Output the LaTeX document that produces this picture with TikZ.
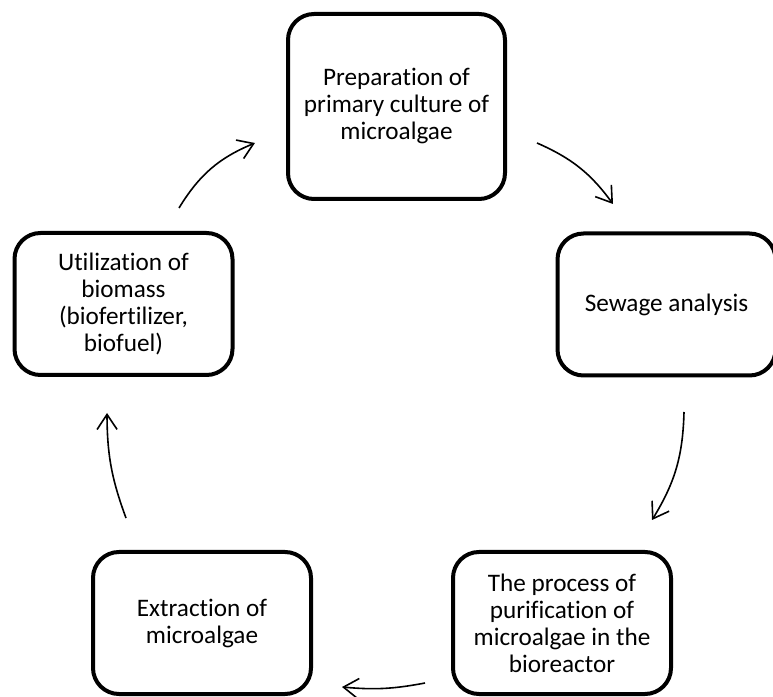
\documentclass[tikz,border=0pt]{standalone}
\usepackage{fontspec}
\setmainfont{Carlito}[Ligatures=NoCommon]
\usetikzlibrary{arrows.meta,positioning}

\begin{document}
\begin{tikzpicture}[x=1pt,y=1pt,
  every node/.style={font=\fontsize{25.2}{27}\selectfont},
  stagebox/.style={draw,line width=4pt,rounded corners=26pt,align=center,inner sep=0pt,
                   minimum width=218pt,minimum height=142pt},
  cyclearrow/.style={-{Straight Barb[length=15pt,width=20pt]},line width=1.6pt}]
  \useasboundingbox (0,0) rectangle (773,696);
  % the five stages
  \node[stagebox,minimum width=217pt,minimum height=185pt] (culture) at (396.5,589.5)
       {Preparation of\\primary culture of\\microalgae};
  \node[stagebox] (sewage)   at (666.5,391.5) {Sewage analysis};
  \node[stagebox] (purify)   at (562,73)      {The process of\\purification of\\microalgae in the\\bioreactor};
  \node[stagebox] (extract)  at (202,73)      {Extraction of\\microalgae};
  \node[stagebox] (utilize)  at (123.5,392)   {Utilization of\\biomass\\(biofertilizer,\\biofuel)};
  % arrow ends
  \coordinate (a1s) at (537,553); \coordinate (a1e) at (613,492);
  \coordinate (a2s) at (684,284); \coordinate (a2e) at (652,176);
  \coordinate (a3s) at (425,13);  \coordinate (a3e) at (342,9);
  \coordinate (a4s) at (126,178); \coordinate (a4e) at (107,283);
  \coordinate (a5s) at (179,488); \coordinate (a5e) at (255,553);
  \draw[cyclearrow] (a1s) to[bend left=15] (a1e);
  \draw[cyclearrow] (a2s) to[bend left=15] (a2e);
  \draw[cyclearrow] (a3s) to[bend left=8]  (a3e);
  \draw[cyclearrow] (a4s) to[bend left=10] (a4e);
  \draw[cyclearrow] (a5s) to[bend left=18] (a5e);
\end{tikzpicture}
\end{document}
